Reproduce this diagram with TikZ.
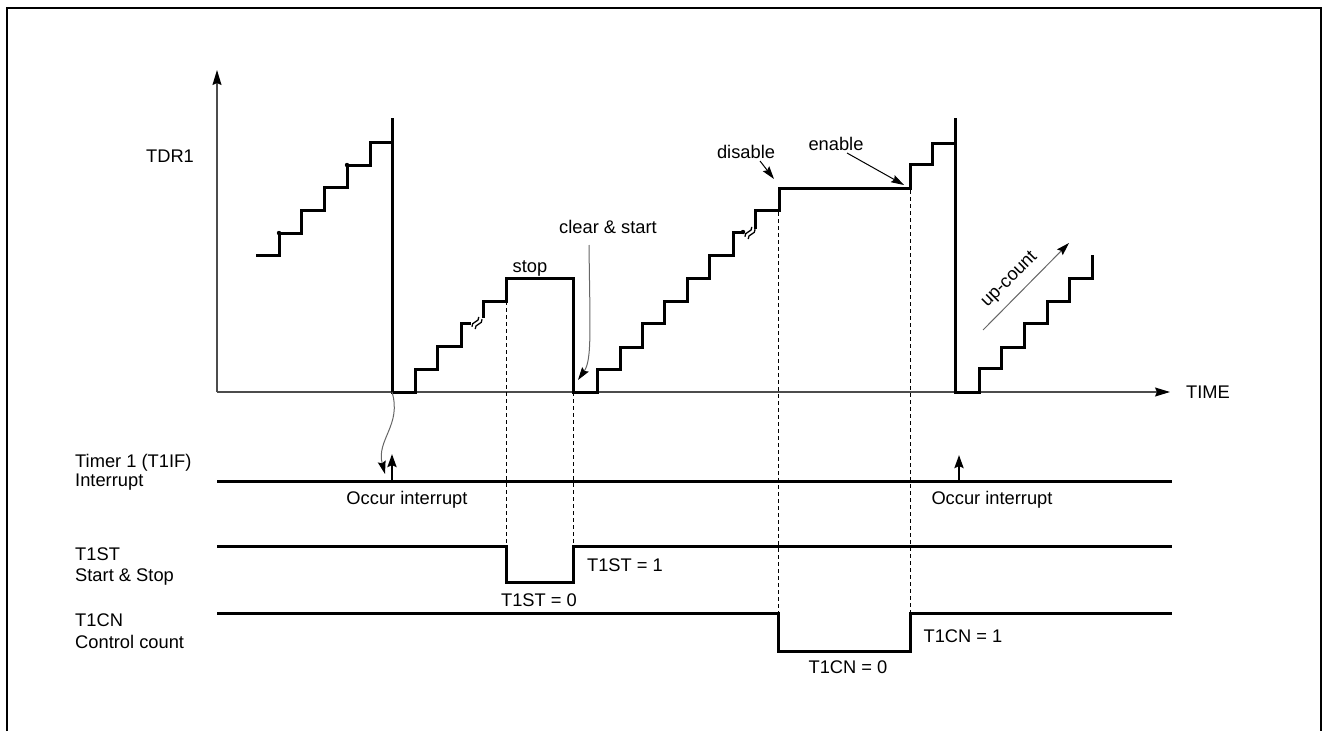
\documentclass[tikz,border=0pt]{standalone}
\usepackage{fontspec}
\setmainfont{Liberation Sans}
\usetikzlibrary{arrows.meta}

\tikzset{
  stairs/.style={line width=3pt, line join=miter},
  sig/.style={line width=3pt},
  axisln/.style={line width=1.2pt, black!70, -{Stealth[length=15pt,width=9pt,inset=2pt,color=black]}},
  guide/.style={line width=0.8pt, dash pattern=on 4pt off 3pt},
  lbl/.style={inner sep=0pt, text height=13pt, text depth=0pt},
  thinarr/.style={line width=1pt, black!60, -{Stealth[length=13pt,width=8pt,inset=2pt,color=black]}},
  blkarr/.style={line width=1pt, -{Stealth[length=13pt,width=8pt,inset=2pt]}},
  irqarr/.style={line width=2.5pt, -{Stealth[length=13pt,width=9pt,inset=2pt]}},
  brk/.style={line width=1.3pt},
}

\begin{document}
\begin{tikzpicture}[x=1pt, y=-1pt, font=\fontsize{18.3}{21}\selectfont]
\useasboundingbox (0,0) rectangle (1324,731);
\draw[line width=2.5pt] (7,731) -- (7,8) -- (1321,8) -- (1321,731);

% axes
\coordinate (O) at (217,392);
\coordinate (ytop) at (217,70);
\coordinate (xend) at (1170,392);
\draw[axisln] (O) -- (ytop);
\draw[axisln] (O) -- (xend);
\node[lbl] (tdr) at (170,156) {TDR1};
\node[lbl, anchor=west] (time) at (1186,392) {TIME};

% counter value
\draw[stairs] (256,255) -| (279,233) -| (301,210) -| (324,187) -| (347,165) -| (370,142) -- (392,142);
\fill (279,233) circle (2.2pt);
\fill (347,165) circle (2.2pt);
\draw[stairs] (392,118) -- (392,392) -| (415,369) -| (437,346) -| (461,323) -- (471,323);
\draw[brk, shift={(477,323)}, rotate=55] (-6,-2) .. controls (-2,-6) and (2,2) .. (6,-2)
  (-6,2) .. controls (-2,-2) and (2,6) .. (6,2);
\draw[stairs] (483,318) -- (483,301) -| (506,278) -- (573,278) -- (573,392) -| (597,369)
  -| (620,347) -| (642,323) -| (664,301) -| (687,278) -| (709,255) -| (733,232) -- (744,232);
\fill (743,232) circle (2.2pt);
\draw[brk, shift={(750,233)}, rotate=55] (-6,-2) .. controls (-2,-6) and (2,2) .. (6,-2)
  (-6,2) .. controls (-2,-2) and (2,6) .. (6,2);
\draw[stairs] (755,229) -- (755,210) -| (779,188) -- (910,188) |- (932,164) |- (955,143);
\draw[stairs] (955,118) -- (955,392) -| (979,368) -| (1001,347) -| (1024,323) -| (1047,301)
  -| (1069,278) -| (1092,255);

% notes on the count
\node[lbl] (stop) at (530,266) {stop};
\node[lbl] (clr) at (608,227) {clear \& start};
\coordinate (clrA) at (589,245);
\coordinate (clrB) at (578,380);
\draw[thinarr] (clrA) .. controls (590,330) and (592,360) .. (clrB);
\node[lbl] (dis) at (746,152) {disable};
\coordinate (disA) at (760,161);
\coordinate (disB) at (774,179);
\draw[blkarr] (disA) -- (disB);
\node[lbl] (ena) at (836,144) {enable};
\coordinate (enaA) at (847,153);
\coordinate (enaB) at (904,185);
\draw[blkarr] (enaA) -- (enaB);
\coordinate (upA) at (983,330);
\coordinate (upB) at (1069,243);
\draw[thinarr] (upA) -- (upB);
\node[lbl, rotate=45] (up) at (1008,278) {up-count};

% guides
\draw[guide] (506,301) -- (506,546);
\draw[guide] (573,392) -- (573,546);
\draw[guide] (778,212) -- (778,613);
\draw[guide] (910,190) -- (910,613);

% interrupt
\node[lbl, anchor=west] (t1if) at (75,461) {Timer 1 (T1IF)};
\node[lbl, anchor=west] (intr) at (75,480) {Interrupt};
\draw[sig] (217,481) -- (1172,481);
\coordinate (irq1) at (392,481);
\coordinate (irq1t) at (392,454);
\coordinate (irq2) at (959,481);
\coordinate (irq2t) at (959,455);
\draw[irqarr] (irq1) -- (irq1t);
\draw[irqarr] (irq2) -- (irq2t);
\coordinate (drop) at (392,392);
\coordinate (dropB) at (385,474);
\draw[thinarr] (drop) .. controls (402,425) and (376,440) .. (dropB);
\node[lbl] (occ1) at (407,498) {Occur interrupt};
\node[lbl] (occ2) at (992,498) {Occur interrupt};

% start and stop
\node[lbl, anchor=west] (t1st) at (75,554) {T1ST};
\node[lbl, anchor=west] (ss) at (75,575) {Start \& Stop};
\draw[sig] (217,546) -- (506,546) -- (506,582) -- (573,582) -- (573,546) -- (1172,546);
\node[lbl] (st1) at (625,565) {T1ST = 1};
\node[lbl] (st0) at (539,600) {T1ST = 0};

% control count
\node[lbl, anchor=west] (t1cn) at (75,620) {T1CN};
\node[lbl, anchor=west] (cc) at (75,642) {Control count};
\draw[sig] (217,613) -- (778,613) -- (778,651) -- (910,651) -- (910,613) -- (1172,613);
\node[lbl] (cn0) at (848,667) {T1CN = 0};
\node[lbl] (cn1) at (963,636) {T1CN = 1};
\end{tikzpicture}
\end{document}
